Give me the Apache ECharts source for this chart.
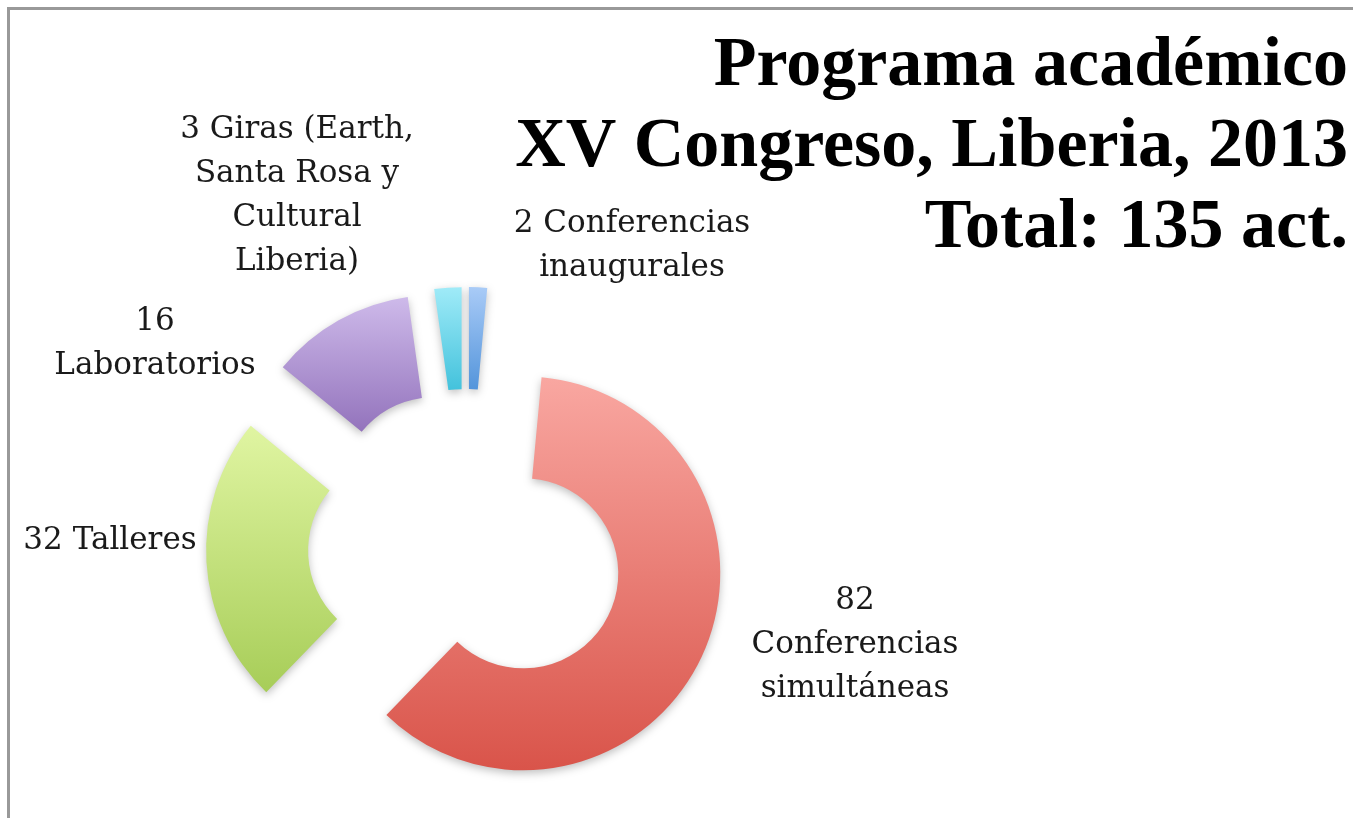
<!DOCTYPE html>
<html>
<head>
<meta charset="utf-8">
<script src="https://cdn.jsdelivr.net/npm/echarts@6/dist/echarts.min.js"></script>
<style>
body { margin: 0; background: #fff; }
#frame {
  position: absolute;
  left: 7px;
  top: 7px;
  width: 1343px;
  height: 820px;
  border-left: 3px solid #999;
  border-top: 3px solid #999;
}
#chart { position: absolute; left: 0; top: 0; width: 1359px; height: 818px; }
</style>
</head>
<body>
<div id="frame"></div>
<div id="chart"></div>
<script>
// slices, clockwise from 12 o'clock
var values = [2, 82, 32, 16, 3]
var categories = ['Conferencias\ninaugurales', 'Conferencias\nsimultáneas', 'Talleres', 'Laboratorios', 'Giras (Earth,\nSanta Rosa y\nCultural\nLiberia)']
var joiners = [' ', '\n', ' ', '\n', ' ']
var titleLines = ['Programa académico', 'XV Congreso, Liberia, 2013', 'Total: 135 act.']

// styling (gradient top -> bottom)
var colorTop = ['#a9cbf7', '#f9a7a1', '#e0f5a2', '#cebaea', '#a0ebf8']
var colorBottom = ['#5495db', '#d9544a', '#a7cd58', '#9373bc', '#43c2dc']
// label centres in px
var labelPos = [[632, 246], [855, 645], [110, 541], [155, 344], [297, 196]]

var chart = echarts.init(document.getElementById('chart'))

var pieData = values.map(function (v, i) {
  return {
    name: categories[i],
    value: v,
    selected: true,
    itemStyle: {
      color: new echarts.graphic.LinearGradient(0, 0, 0, 1, [
        { offset: 0, color: colorTop[i] },
        { offset: 1, color: colorBottom[i] }
      ])
    }
  }
})

// slice labels as plain text blocks
var labelTexts = values.map(function (v, i) {
  return {
    type: 'text',
    x: labelPos[i][0],
    y: labelPos[i][1],
    silent: true,
    style: {
      text: v + joiners[i] + categories[i],
      fontFamily: 'DejaVu Serif',
      fontSize: 31,
      lineHeight: 44,
      fill: '#1a1a1a',
      align: 'center',
      verticalAlign: 'middle'
    }
  }
})

// right-aligned title block
labelTexts.push({
  type: 'text',
  x: 1348,
  y: 26,
  silent: true,
  style: {
    text: titleLines.join('\n'),
    fontFamily: 'Liberation Serif',
    fontWeight: 'bold',
    fontSize: 70,
    lineHeight: 81,
    fill: '#000',
    align: 'right',
    verticalAlign: 'top'
  }
})

var option = {
  animation: false,
  graphic: labelTexts,
  series: [{
    type: 'pie',
    center: [466, 547],
    radius: [95, 197],
    startAngle: 90,
    clockwise: true,
    selectedMode: 'multiple',
    selectedOffset: 63,
    avoidLabelOverlap: false,
    itemStyle: {
      shadowBlur: 8,
      shadowColor: 'rgba(0,0,0,0.25)',
      shadowOffsetY: 3
    },
    emphasis: { disabled: true },
    label: { show: false },
    labelLine: { show: false },
    data: pieData
  }]
}

chart.setOption(option)
</script>
</body>
</html>
